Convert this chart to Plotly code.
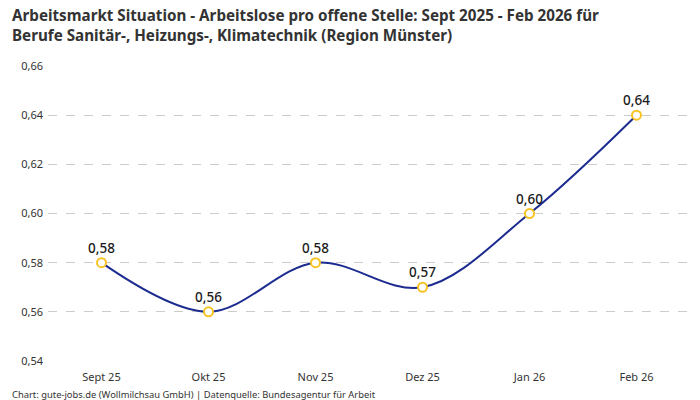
import plotly.graph_objects as go

# data
months = ['Sept 25', 'Okt 25', 'Nov 25', 'Dez 25', 'Jan 26', 'Feb 26']
ratio = [0.58, 0.56, 0.58, 0.57, 0.60, 0.64]
y_ticks = [0.54, 0.56, 0.58, 0.60, 0.62, 0.64, 0.66]

title_text = ('Arbeitsmarkt Situation - Arbeitslose pro offene Stelle: Sept 2025 - Feb 2026 für<br>'
              'Berufe Sanitär-, Heizungs-, Klimatechnik (Region Münster)')
source_text = 'Chart: gute-jobs.de (Wollmilchsau GmbH) | Datenquelle: Bundesagentur für Arbeit'

font_family = 'Noto Sans, Roboto, sans-serif'

fig = go.Figure(data=go.Scatter(x=months,
                                y=ratio,
                                mode='lines+markers+text',
                                line=dict(color='#1c2b8f', width=2, shape='spline', smoothing=1.0),
                                marker=dict(size=9, color='white',
                                            line=dict(color='#f7c325', width=2)),
                                text=[f'{v:.2f}'.replace('.', ',') for v in ratio],
                                textposition='top center',
                                textfont=dict(size=13.5, color='#1a1a1a', family=font_family,
                                              weight=500),
                                cliponaxis=False,
                                hoverinfo='skip'))

fig.update_layout(width=700, height=400,
                  margin=dict(l=48, r=10, t=66, b=39),
                  paper_bgcolor='white',
                  plot_bgcolor='white',
                  separators=',.',
                  showlegend=False,
                  font=dict(family=font_family, color='#333333', size=11))

fig.update_xaxes(range=[-0.5, 5.5], showgrid=False, zeroline=False, showline=False,
                 tickfont=dict(size=11, color='#333333'),
                 ticks='', ticklabelstandoff=8)
fig.update_yaxes(range=[0.54, 0.66], tickvals=y_ticks, tickformat='.2f',
                 showgrid=True, gridcolor='#cccccc', griddash='dash', gridwidth=1,
                 zeroline=False, showline=False, ticks='',
                 tickfont=dict(size=11, color='#333333'),
                 ticklabelstandoff=4)

# title as annotation so both lines sit where expected
fig.add_annotation(text='<b>' + title_text.replace('<br>', '</b><br><b>') + '</b>',
                   xref='paper', yref='paper', x=-0.059, y=1.214,
                   xanchor='left', yanchor='top', align='left', showarrow=False,
                   font=dict(size=15.2, color='#333333', family=font_family))

fig.add_annotation(text=source_text, xref='paper', yref='paper',
                   x=-0.059, y=0, yshift=-33, xanchor='left', yanchor='middle',
                   showarrow=False, font=dict(size=9.4, color='#333333'))

# drop the default page margin so the figure sits at the window's corner
fig.write_html("out.html", config={'displayModeBar': False},
               post_script="document.body.style.margin='0';")
